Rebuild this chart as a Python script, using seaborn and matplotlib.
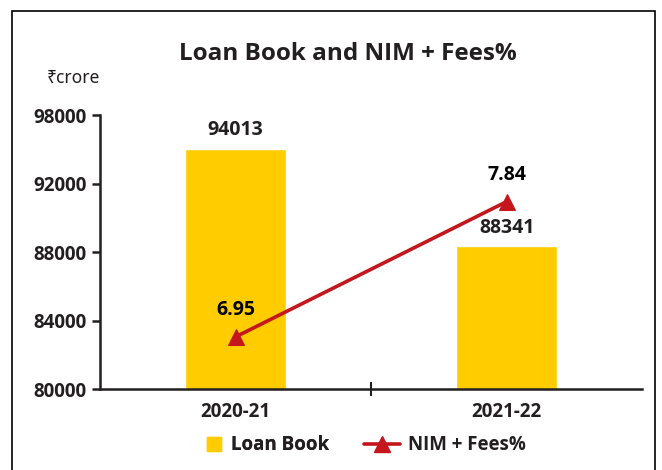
import numpy as np
import pandas as pd
import matplotlib.pyplot as plt
import seaborn as sns
from matplotlib.patches import Rectangle
from matplotlib.lines import Line2D

# Data
years = ['2020-21', '2021-22']
loan_book = [94013, 88341]
nim_fees = [6.95, 7.84]
ytick_values = [80000, 84000, 88000, 92000, 96000]
ytick_labels = ['80000', '84000', '88000', '92000', '98000']

bar_color = '#FFCC00'
line_color = '#C4161C'
text_color = '#231F20'

sns.set_theme(style='white')
plt.rcParams['font.family'] = ['Open Sans', 'DejaVu Sans']

df = pd.DataFrame({'Year': years, 'Loan': loan_book, 'NIM': nim_fees})
df['pos'] = np.arange(len(df))

fig = plt.figure(figsize=(6.62, 4.70), dpi=100)
ax = fig.add_axes([0.151, 0.1723, 0.819, 0.583])

sns.barplot(data=df, x='Year', y='Loan', color=bar_color, width=0.37,
            saturation=1, ax=ax)
ax.set_ylim(80000, 96000)
ax.set_xlim(-0.5, 1.5)
ax.set_yticks(ytick_values)
ax.set_yticklabels(ytick_labels)
ax.set_xticks([0.5])
ax.set_xticklabels([''])
for i, y in enumerate(years):
    ax.text(i, 79250, y, ha='center', va='top', fontsize=13.5,
            fontweight='bold', color=text_color)
ax.set_xlabel('')
ax.set_ylabel('')

for i, v in enumerate(loan_book):
    ax.text(i, v + 500, str(v), ha='center', va='bottom', fontsize=14,
            fontweight='bold', color=text_color)

for side in ['top', 'right']:
    ax.spines[side].set_visible(False)
for side in ['left', 'bottom']:
    ax.spines[side].set_color(text_color)
    ax.spines[side].set_linewidth(1.8)
ax.tick_params(axis='y', direction='out', length=6, width=1.8,
               color=text_color, labelsize=13.5, labelcolor=text_color, left=True)
ax.tick_params(axis='x', direction='inout', length=10, width=1.5,
               color=text_color, bottom=True)
for lbl in ax.get_yticklabels():
    lbl.set_fontweight('bold')

# Secondary axis for NIM + Fees%
ax2 = ax.twinx()
sns.lineplot(data=df, x='pos', y='NIM', color=line_color, linewidth=2.6,
             marker='^', markersize=11, markeredgecolor=line_color, ax=ax2)
ax2.set_ylim(6.607, 8.41)
ax2.set_xlim(-0.5, 1.5)
ax2.axis('off')
for i, v in enumerate(nim_fees):
    ax2.text(i, v + 0.11, f'{v:.2f}', ha='center', va='bottom', fontsize=14,
             fontweight='bold', color='black')

fig.text(0.526, 0.885, 'Loan Book and NIM + Fees%', ha='center', va='center',
         fontsize=17.5, fontweight='bold', color=text_color)
fig.text(0.071, 0.833, '₹crore', ha='left', va='center', fontsize=12.5,
         color=text_color, family=['Noto Sans', 'DejaVu Sans'])

# Legend (two parts so the square handle sits close to its label)
leg_props = {'size': 13.5, 'weight': 'bold'}
bar_handle = Line2D([0], [0], color=bar_color, linestyle='none', marker='s',
                    markersize=10)
line_handle = Line2D([0], [0], color=line_color, linewidth=2.6, marker='^',
                     markersize=11)
leg1 = fig.legend([bar_handle], ['Loan Book'], loc='center',
                  bbox_to_anchor=(0.405, 0.053), frameon=False, prop=leg_props,
                  handlelength=0.8, handletextpad=0.5, labelcolor=text_color)
fig.legend([line_handle], ['NIM + Fees%'], loc='center',
           bbox_to_anchor=(0.672, 0.053), frameon=False, prop=leg_props,
           handlelength=1.9, handletextpad=0.45, labelcolor=text_color)
fig.add_artist(leg1)

# Outer frame
fig.patches.append(Rectangle((0.018, -0.1), 0.971, 1.077, transform=fig.transFigure,
                             fill=False, edgecolor='black', linewidth=1.2))

fig.savefig('out.png', dpi=100)
